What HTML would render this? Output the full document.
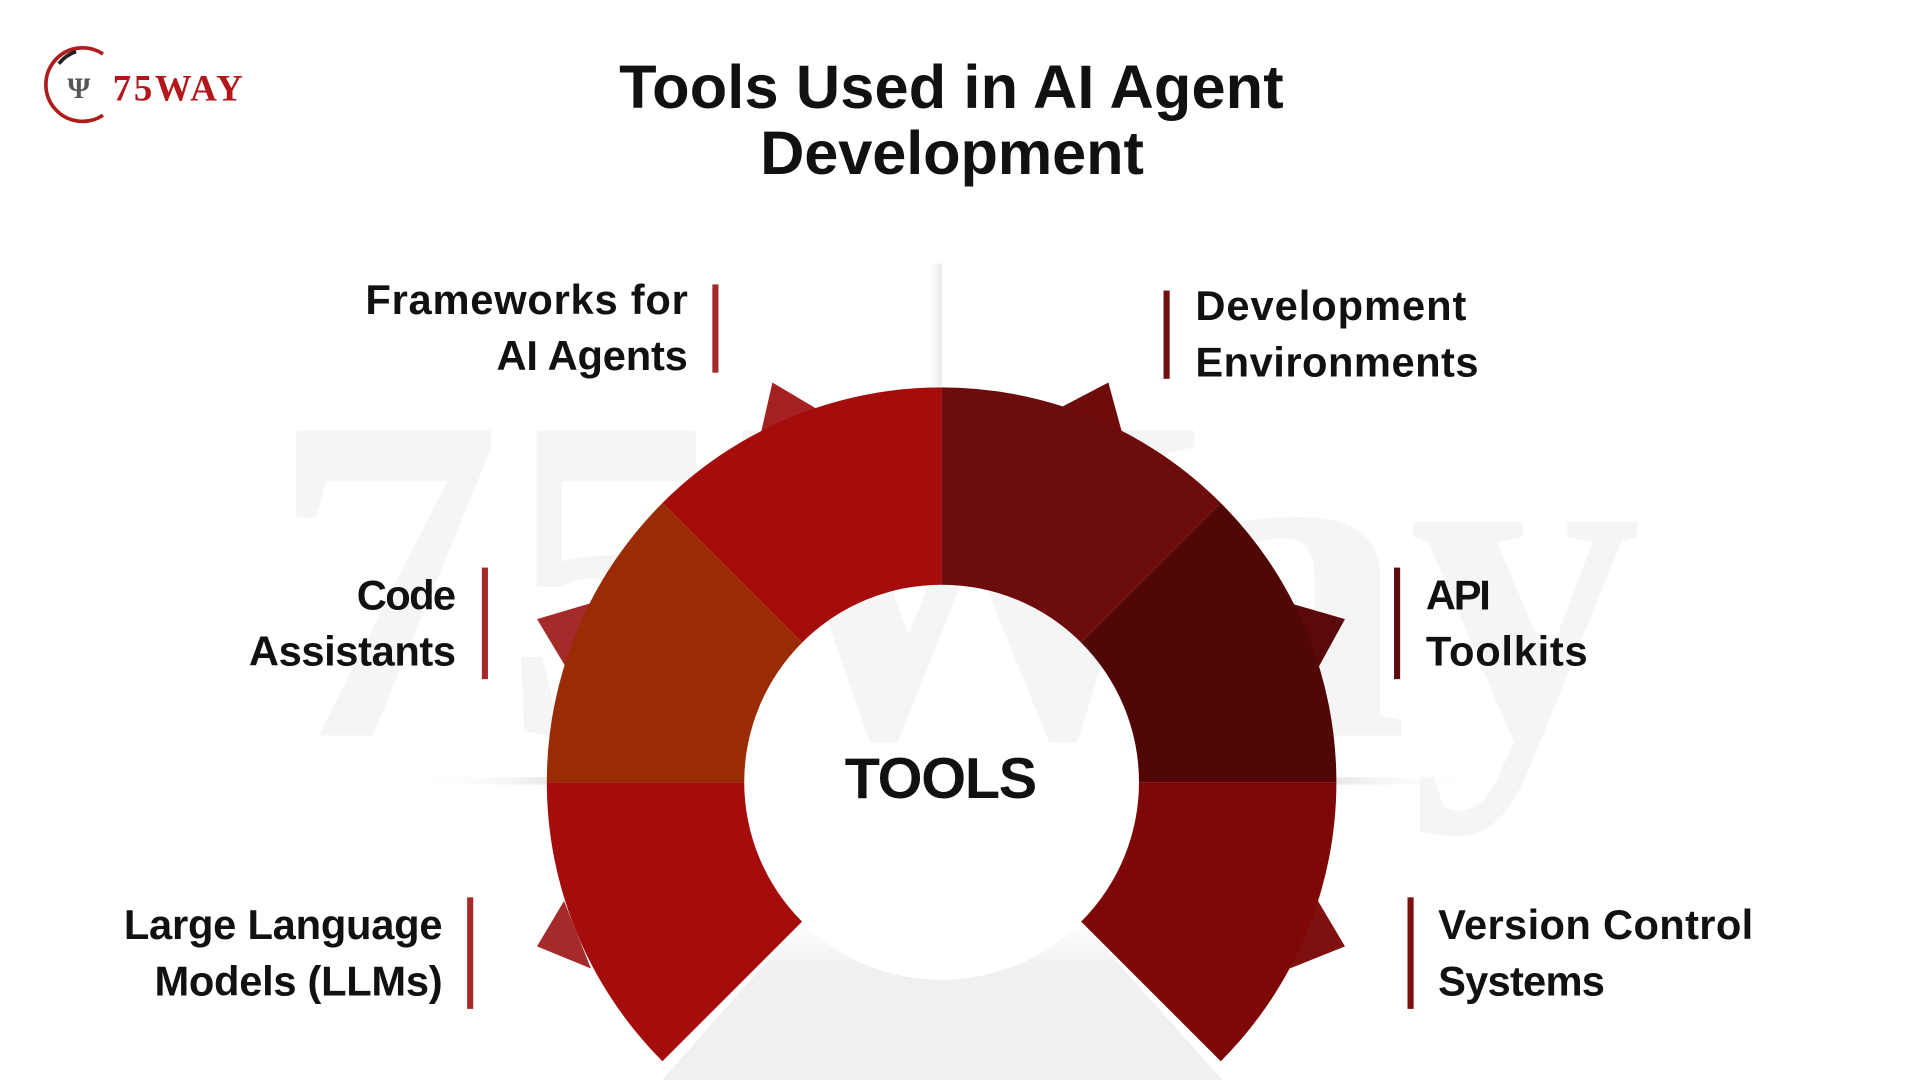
<!DOCTYPE html>
<html><head><meta charset="utf-8"><style>
html,body{margin:0;padding:0;background:#fff;width:1920px;height:1080px;overflow:hidden}
svg{display:block}
text{font-family:"Liberation Sans",sans-serif;font-weight:bold;fill:#111}
</style></head><body>
<svg width="1920" height="1080" viewBox="0 0 1566 881" preserveAspectRatio="none">
<defs>
<linearGradient id="bot" x1="0" y1="0" x2="0" y2="1"><stop offset="0" stop-color="#fff"/><stop offset="0.3" stop-color="#eef0f2"/><stop offset="1" stop-color="#eef0f2"/></linearGradient>
<linearGradient id="vsh" x1="0" y1="0" x2="1" y2="0"><stop offset="0" stop-color="#fff" stop-opacity="0"/><stop offset="1" stop-color="#e6e6e6"/></linearGradient>
<linearGradient id="hshL" x1="0" y1="0" x2="1" y2="0"><stop offset="0" stop-color="#fff" stop-opacity="0"/><stop offset="1" stop-color="#e8e8e8"/></linearGradient>
<linearGradient id="hshR" x1="1" y1="0" x2="0" y2="0"><stop offset="0" stop-color="#fff" stop-opacity="0"/><stop offset="1" stop-color="#e8e8e8"/></linearGradient>
</defs>
<text x="220" y="600" style="font-family:'Liberation Serif',serif;font-size:380px;fill:#f5f5f5">75Way</text>
<path d="M84 44 A30 30 0 1 0 84 94" fill="none" stroke="#b01c1c" stroke-width="3"/>
<path d="M62 42 A30 30 0 0 0 48 52" fill="none" stroke="#222" stroke-width="3"/>
<text x="55" y="80" style="font-family:'Liberation Serif',serif;font-size:24px;fill:#555">Ψ</text>
<text x="92" y="82" textLength="106" style="font-family:'Liberation Serif',serif;font-size:30px;fill:#b3161b">75WAY</text>
<text x="505" y="88" textLength="542" style="font-size:50px">Tools Used in AI Agent</text>
<text x="620" y="142" textLength="313" style="font-size:50px">Development</text>
<rect x="756" y="215" width="12" height="100" fill="url(#vsh)"/>
<rect x="340" y="634" width="110" height="6" fill="url(#hshL)"/>
<rect x="1090" y="634" width="110" height="6" fill="url(#hshR)"/>
<path d="M654 752 L540 881 L997 881 L882 752 A161 161 0 0 1 654 752 Z" fill="url(#bot)"/>
<polygon points="630,312 672,337 620,356" fill="#a52020"/>
<polygon points="904,312 916,356 862,334" fill="#6e0c0c"/>
<polygon points="438,505 482,492 462,545" fill="#a52a2a"/>
<polygon points="1097,505 1052,492 1075,545" fill="#5a0a0a"/>
<polygon points="438,772 460,735 482,790" fill="#a52a2a"/>
<polygon points="1097,772 1075,735 1052,790" fill="#7e1010"/>
<path d="M540.3 865.7 A322 322 0 0 1 446 638 L607 638 A161 161 0 0 0 654.2 751.8 Z" fill="#a50c0c"/>
<path d="M446 638 A322 322 0 0 1 540.3 410.3 L654.2 524.2 A161 161 0 0 0 607 638 Z" fill="#992c04"/>
<path d="M540.3 410.3 A322 322 0 0 1 768 316 L768 477 A161 161 0 0 0 654.2 524.2 Z" fill="#a50c0c"/>
<path d="M768 316 A322 322 0 0 1 995.7 410.3 L881.8 524.2 A161 161 0 0 0 768 477 Z" fill="#6c0c0c"/>
<path d="M995.7 410.3 A322 322 0 0 1 1090 638 L929 638 A161 161 0 0 0 881.8 524.2 Z" fill="#520707"/>
<path d="M1090 638 A322 322 0 0 1 995.7 865.7 L881.8 751.8 A161 161 0 0 0 929 638 Z" fill="#7e0808"/>
<text x="689" y="651" textLength="157" style="font-size:47px">TOOLS</text>
<rect x="581" y="232" width="5" height="72" fill="#a52a2a"/>
<rect x="949" y="237" width="5" height="72" fill="#6e1010"/>
<rect x="393" y="463" width="5" height="91" fill="#a52a2a"/>
<rect x="1137" y="463" width="5" height="91" fill="#5a0d0d"/>
<rect x="381" y="732" width="5" height="91" fill="#a52a2a"/>
<rect x="1148" y="732" width="5" height="91" fill="#7e1010"/>
<g style="font-size:34px">
<text x="298" y="256" textLength="263" style="font-size:34px">Frameworks for</text>
<text x="405" y="302" textLength="156" style="font-size:34px">AI Agents</text>
<text x="975" y="261" textLength="221" style="font-size:34px">Development</text>
<text x="975" y="307" textLength="231" style="font-size:34px">Environments</text>
<text x="291" y="497" textLength="81" style="font-size:34px">Code</text>
<text x="203" y="543" textLength="169" style="font-size:34px">Assistants</text>
<text x="1163" y="497" textLength="53" style="font-size:34px">API</text>
<text x="1163" y="543" textLength="132" style="font-size:34px">Toolkits</text>
<text x="101" y="766" textLength="260" style="font-size:34px">Large Language</text>
<text x="126" y="812" textLength="235" style="font-size:34px">Models (LLMs)</text>
<text x="1173" y="766" textLength="257" style="font-size:34px">Version Control</text>
<text x="1173" y="812" textLength="136" style="font-size:34px">Systems</text>
</g>
</svg>
</body></html>
